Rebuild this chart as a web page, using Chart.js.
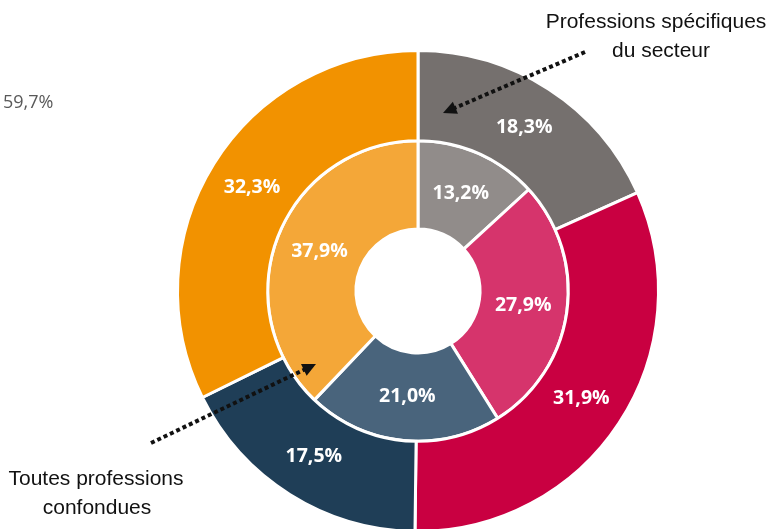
<!DOCTYPE html>
<html>
<head>
<meta charset="utf-8">
<script src="https://cdn.jsdelivr.net/npm/chart.js@4.4.1/dist/chart.umd.min.js"></script>
<style>
html,body{margin:0;padding:0;background:#fff;overflow:hidden;}
#wrap{position:absolute;left:0;top:0;width:774px;height:540px;}
</style>
</head>
<body>
<div id="wrap"><canvas id="c"></canvas></div>
<script>
// Data
const categories = ['Catégorie 1', 'Catégorie 2', 'Catégorie 3', 'Catégorie 4'];
const sectorValues = [18.3, 31.9, 17.5, 32.3];      // outer ring: Professions spécifiques du secteur
const allValues = [13.2, 27.9, 21.0, 37.9];         // inner ring: Toutes professions confondues
const sectorColors = ['#75706e', '#c90041', '#1f3e57', '#f29200'];
const allColors = ['#918c8a', '#d6346c', '#49647c', '#f4a738'];
const strayLabel = '59,7%';
const annotTop = ['Professions spécifiques', 'du secteur'];
const annotBottom = ['Toutes professions', 'confondues'];

const fmt = v => v.toFixed(1).replace('.', ',') + '%';

const valueLabels = {
  id: 'valueLabels',
  afterDatasetsDraw(chart) {
    const ctx = chart.ctx;
    ctx.save();
    ctx.fillStyle = '#ffffff';
    ctx.font = 'bold 19.5px "Open Sans", sans-serif';
    ctx.textAlign = 'center';
    ctx.textBaseline = 'middle';
    chart.data.datasets.forEach((ds, di) => {
      const meta = chart.getDatasetMeta(di);
      meta.data.forEach((arc, i) => {
        const p = arc.tooltipPosition();
        ctx.fillText(fmt(ds.data[i]), p.x, p.y);
      });
    });
    ctx.restore();
  }
};

function dottedArrow(ctx, x1, y1, x2, y2) {
  const ang = Math.atan2(y2 - y1, x2 - x1);
  const head = 15;
  const ex = x2 - Math.cos(ang) * head * 0.8;
  const ey = y2 - Math.sin(ang) * head * 0.8;
  ctx.save();
  ctx.strokeStyle = '#111';
  ctx.lineWidth = 4;
  ctx.setLineDash([4, 3]);
  ctx.beginPath();
  ctx.moveTo(x1, y1);
  ctx.lineTo(ex, ey);
  ctx.stroke();
  ctx.setLineDash([]);
  ctx.fillStyle = '#111';
  ctx.beginPath();
  ctx.moveTo(x2, y2);
  ctx.lineTo(x2 - Math.cos(ang - 0.45) * head, y2 - Math.sin(ang - 0.45) * head);
  ctx.lineTo(x2 - Math.cos(ang + 0.45) * head, y2 - Math.sin(ang + 0.45) * head);
  ctx.closePath();
  ctx.fill();
  ctx.restore();
}

const annotations = {
  id: 'annotations',
  afterDraw(chart) {
    const ctx = chart.ctx;
    ctx.save();
    ctx.fillStyle = '#595959';
    ctx.font = '18px "Open Sans", sans-serif';
    ctx.textAlign = 'left';
    ctx.textBaseline = 'middle';
    ctx.fillText(strayLabel, 3, 103);

    ctx.fillStyle = '#111';
    ctx.font = '21px "Liberation Sans", Arial, sans-serif';
    ctx.textAlign = 'center';
    ctx.fillText(annotTop[0], 656, 22);
    ctx.fillText(annotTop[1], 661, 51);
    ctx.fillText(annotBottom[0], 96, 479);
    ctx.fillText(annotBottom[1], 97, 508);
    ctx.restore();

    dottedArrow(ctx, 585, 52, 443, 113);
    dottedArrow(ctx, 151, 443, 316, 364);
  }
};

new Chart(document.getElementById('c'), {
  type: 'doughnut',
  data: {
    labels: categories,
    datasets: [
      { label: 'Professions spécifiques du secteur', data: sectorValues, backgroundColor: sectorColors, borderColor: '#ffffff', borderWidth: 3, weight: 90, hoverOffset: 0, offset: 0 },
      { label: 'Toutes professions confondues', data: allValues, backgroundColor: allColors, borderColor: '#ffffff', borderWidth: 3, weight: 88, hoverOffset: 0, offset: 0 }
    ]
  },
  options: {
    responsive: true,
    maintainAspectRatio: false,
    animation: false,
    cutout: '25.8%',
    layout: { padding: { top: 49, bottom: 7, left: 176, right: 114 } },
    plugins: { legend: { display: false }, tooltip: { enabled: false } },
    events: []
  },
  plugins: [valueLabels, annotations]
});
</script>
</body>
</html>
